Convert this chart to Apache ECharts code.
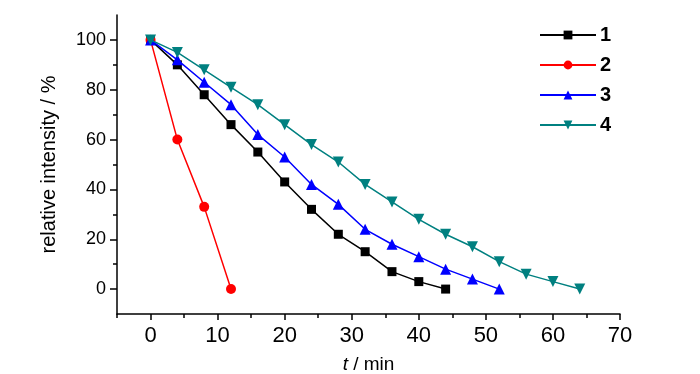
<!DOCTYPE html>
<html><head><meta charset="utf-8">
<script src="https://cdn.jsdelivr.net/npm/echarts@6/dist/echarts.min.js"></script>
<style>html,body{margin:0;padding:0;background:#fff}#c{width:700px;height:374px}</style>
</head><body><div id="c"></div>
<script>
const seriesNames = ['1', '2', '3', '4'];
const t1 = [0,4,8,12,16,20,24,28,32,36,40,44];
const v1 = [100,90,78,66,55,43,32,22,15,7,3,0];
const t2 = [0,4,8,12];
const v2 = [100,60,33,0];
const t3 = [0,4,8,12,16,20,24,28,32,36,40,44,48,52];
const v3 = [100,92,83,74,62,53,42,34,24,18,13,8,4,0];
const t4 = [0,4,8,12,16,20,24,28,32,36,40,44,48,52,56,60,64];
const v4 = [100,95,88,81,74,66,58,51,42,35,28,22,17,11,6,3,0];
const xLabels = [0,10,20,30,40,50,60,70];
const xMinor = [-5,5,15,25,35,45,55,65];
const yLabels = [0,20,40,60,80,100];
const yMinor = [10,30,50,70,90];

const colors = ['#000000','#ff0000','#0000ff','#008080'];
const symbols = ['rect','circle','triangle','triangle'];
const rotates = [0,0,0,180];
const sizes = [9,10,11,11];
const pairs = [[t1,v1],[t2,v2],[t3,v3],[t4,v4]];
const font = 'Liberation Sans, Arial, sans-serif';

const chart = echarts.init(document.getElementById('c'));
const axLine = {show:true,onZero:false,lineStyle:{color:'#000',width:1.5}};
chart.setOption({
  animation:false,
  grid:{left:117,right:80,top:15,bottom:60,containLabel:false,outerBoundsMode:'none'},
  legend:{
    orient:'vertical', left:534, top:20, itemWidth:56, itemHeight:11, itemGap:10,
    textStyle:{fontFamily:font,fontSize:20,fontWeight:'bold',color:'#000',padding:[0,0,0,-1]},
    data:seriesNames
  },
  xAxis:[
    {type:'value',min:-5,max:70,interval:5,
      axisLine:axLine, splitLine:{show:false},
      name:'{i|t} / min', nameLocation:'middle', nameGap:41,
      nameTextStyle:{fontFamily:font,fontSize:19,color:'#000',rich:{i:{fontStyle:'italic',fontFamily:font,fontSize:19}}},
      axisTick:{show:true,inside:false,length:6,lineStyle:{color:'#000',width:1.5},customValues:xLabels},
      axisLabel:{fontFamily:font,fontSize:22,color:'#000',margin:11,customValues:xLabels}},
    {type:'value',min:-5,max:70,interval:5,position:'bottom',
      axisLine:{show:false,onZero:false}, splitLine:{show:false},
      axisTick:{show:true,length:4,lineStyle:{color:'#000',width:1.5},customValues:xMinor},
      axisLabel:{show:false}}
  ],
  yAxis:[
    {type:'value',min:-10,max:110,interval:10,
      axisLine:axLine, splitLine:{show:false},
      name:'relative intensity / %', nameLocation:'middle', nameGap:58,
      nameTextStyle:{fontFamily:font,fontSize:20,color:'#000'},
      axisTick:{show:true,length:7,lineStyle:{color:'#000',width:1.5},customValues:yLabels},
      axisLabel:{fontFamily:font,fontSize:18,color:'#000',margin:11,customValues:yLabels}},
    {type:'value',min:-10,max:110,interval:10,position:'left',
      axisLine:{show:false,onZero:false}, splitLine:{show:false},
      axisTick:{show:true,length:4,lineStyle:{color:'#000',width:1.5},customValues:yMinor},
      axisLabel:{show:false}}
  ],
  series: pairs.map((p,i)=>({
    name:seriesNames[i], type:'line', xAxisIndex:0, yAxisIndex:0,
    data:p[0].map((t,k)=>[t,p[1][k]]),
    symbol:symbols[i], symbolRotate:rotates[i], symbolSize:sizes[i], showSymbol:true,
    lineStyle:{color:colors[i],width:1.5},
    itemStyle:{color:colors[i]},
    z: 2+i
  }))
});
</script></body></html>
